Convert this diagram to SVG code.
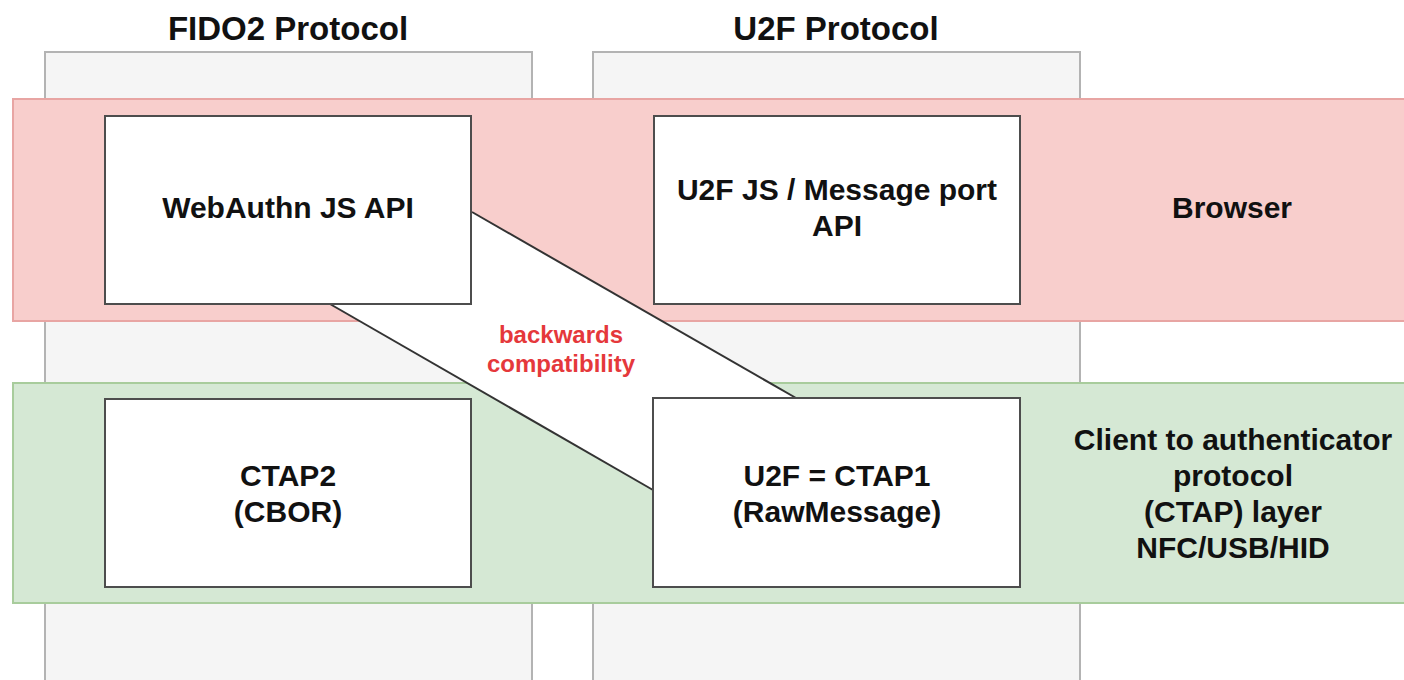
<svg xmlns="http://www.w3.org/2000/svg" width="1404" height="680" viewBox="0 0 1404 680">
<style>
.col{fill:#f5f5f5;stroke:#b3b3b3;stroke-width:2}
.box{fill:#ffffff;stroke:#4d4d4d;stroke-width:2}
.t{font-family:"Liberation Sans",Arial,sans-serif;font-weight:bold;fill:#111111;text-anchor:middle}
.n{font-size:30px}
.h{font-size:33px}
.r{font-size:24px;fill:#e5383b}
.ln{stroke:#333333;stroke-width:2;fill:none}
</style>
<rect width="1404" height="680" fill="#ffffff"/>
<g id="title-fido2"><text class="t h" x="288" y="40">FIDO2 Protocol</text></g>
<g id="title-u2f"><text class="t h" x="836" y="40">U2F Protocol</text></g>
<g id="col-fido2"><rect class="col" x="45" y="52" width="487" height="640"/></g>
<g id="col-u2f"><rect class="col" x="593" y="52" width="487" height="640"/></g>
<g id="band-browser"><rect x="13" y="99" width="1400" height="222" fill="#f8cecc" stroke="#e8a5a3" stroke-width="2"/>
<text class="t n" x="1232" y="218">Browser</text></g>
<g id="band-ctap"><rect x="13" y="383" width="1400" height="220" fill="#d5e8d4" stroke="#a8cc9c" stroke-width="2"/>
<text class="t n" x="1233" y="450">Client to authenticator</text>
<text class="t n" x="1233" y="486">protocol</text>
<text class="t n" x="1233" y="522">(CTAP) layer</text>
<text class="t n" x="1233" y="558">NFC/USB/HID</text></g>
<g id="connectors">
<polygon points="330,304 472,212 796,398 653,490" fill="#ffffff"/>
<line class="ln" x1="472" y1="212" x2="796" y2="398"/>
<line class="ln" x1="330" y1="304" x2="653" y2="490"/>
<text class="t r" x="561" y="343">backwards</text>
<text class="t r" x="561" y="372">compatibility</text>
</g>
<g id="webauthn"><rect class="box" x="105" y="116" width="366" height="188"/>
<text class="t n" x="288" y="218">WebAuthn JS API</text></g>
<g id="u2f-js"><rect class="box" x="654" y="116" width="366" height="188"/>
<text class="t n" x="837" y="200">U2F JS / Message port</text>
<text class="t n" x="837" y="236">API</text></g>
<g id="ctap2"><rect class="box" x="105" y="399" width="366" height="188"/>
<text class="t n" x="288" y="486">CTAP2</text>
<text class="t n" x="288" y="522">(CBOR)</text></g>
<g id="ctap1"><rect class="box" x="653" y="398" width="367" height="189"/>
<text class="t n" x="837" y="486">U2F = CTAP1</text>
<text class="t n" x="837" y="522">(RawMessage)</text></g>
</svg>
